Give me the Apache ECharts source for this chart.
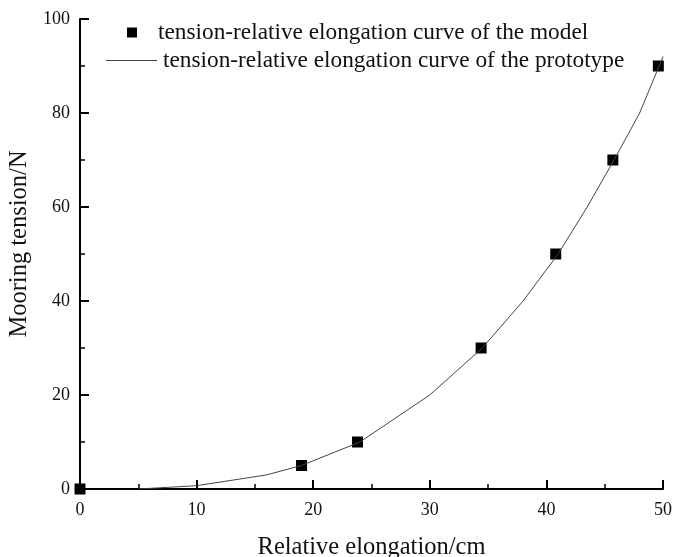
<!DOCTYPE html>
<html><head><meta charset="utf-8">
<script src="https://cdn.jsdelivr.net/npm/echarts@6/dist/echarts.min.js"></script>
<style>html,body{margin:0;padding:0;background:#fff}#c{width:673px;height:557px}</style>
</head><body><div id="c"></div>
<script>
var modelX = [0, 19.0, 23.8, 34.4, 40.8, 45.7, 49.6];
var modelY = [0, 5, 10, 30, 50, 70, 90];
var protoX = [5, 10, 16, 19, 24, 30, 34.5, 38, 41, 43.5, 45.8, 48, 50];
var protoY = [0, 0.7, 3, 5, 10, 20, 30, 40, 50, 60, 70, 80, 92];
var nameModel = 'tension-relative elongation curve of the model';
var nameProto = 'tension-relative elongation curve of the prototype';
var font = 'Liberation Serif';
var chart = echarts.init(document.getElementById('c'));
chart.setOption({
  animation: false,
  textStyle: {fontFamily: font},
  grid: {left: 80, right: 10, top: 19, bottom: 68, containLabel: false, outerBoundsMode: 'none'},
  legend: [
    {data: [{name: nameModel, icon: 'rect'}], left: 127, top: 21, padding: 0,
     itemWidth: 10, itemHeight: 10,
     textStyle: {fontFamily: font, fontSize: 23.3, color: '#111', padding: [0, 0, 0, 16]}},
    {data: [{name: nameProto, icon: 'rect'}], left: 106, top: 49, padding: 0,
     itemWidth: 51, itemHeight: 1,
     textStyle: {fontFamily: font, fontSize: 23.3, color: '#111', padding: [0, 0, 0, 1]}}
  ],
  xAxis: {
    type: 'value', min: 0, max: 50, interval: 10,
    name: 'Relative elongation/cm', nameLocation: 'middle', nameGap: 46,
    nameTextStyle: {fontFamily: font, fontSize: 24.5, color: '#111'},
    axisLine: {lineStyle: {color: '#000', width: 2}},
    axisTick: {inside: true, length: 9, lineStyle: {color: '#000', width: 2}},
    minorTick: {show: true, splitNumber: 2, length: 5, lineStyle: {color: '#000', width: 1.5}},
    axisLabel: {fontFamily: font, fontSize: 18, color: '#111', margin: 12},
    splitLine: {show: false}
  },
  yAxis: {
    type: 'value', min: 0, max: 100, interval: 20,
    name: 'Mooring tension/N', nameLocation: 'middle', nameGap: 41,
    nameTextStyle: {fontFamily: font, fontSize: 24.5, color: '#111', padding: [0, 0, 0, 20]},
    axisLine: {show: true, lineStyle: {color: '#000', width: 2}},
    axisTick: {show: true, inside: true, length: 9, lineStyle: {color: '#000', width: 2}},
    minorTick: {show: true, splitNumber: 2, length: 5, lineStyle: {color: '#000', width: 1.5}},
    axisLabel: {fontFamily: font, fontSize: 18, color: '#111', margin: 10},
    splitLine: {show: false}
  },
  series: [
    {name: nameProto, type: 'line', symbol: 'none', clip: true,
     lineStyle: {color: '#444', width: 1},
     itemStyle: {color: '#444'},
     data: protoX.map(function(x, i){return [x, protoY[i]];})},
    {name: nameModel, type: 'scatter', symbol: 'rect', symbolSize: 11,
     itemStyle: {color: '#000', opacity: 1},
     data: modelX.map(function(x, i){return [x, modelY[i]];})}
  ]
});
</script></body></html>
